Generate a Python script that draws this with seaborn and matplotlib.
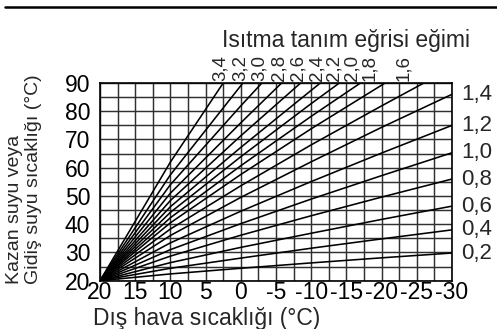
"""
Heating curve chart (Isıtma tanım eğrisi) redrawn with seaborn.

Flow temperature vs. outdoor temperature for slopes 0,2 ... 3,4.
"""

import matplotlib.pyplot as plt
import pandas as pd
import seaborn as sns
from matplotlib.ticker import MultipleLocator

# -----------------------------------------------------------------------------
# Data
# -----------------------------------------------------------------------------
slopes = ["0,2", "0,4", "0,6", "0,8", "1,0", "1,2", "1,4",
          "1,6", "1,8", "2,0", "2,2", "2,4", "2,6", "2,8", "3,0", "3,2", "3,4"]

# outdoor temperature points of each curve (°C)
curve_x = [
    [20, 10, 0, -10, -20, -30],
    [20, 10, 0, -10, -20, -30],
    [20, 10, 0, -10, -20, -30],
    [20, 10, 0, -10, -20, -30],
    [20, 10, 0, -10, -20, -30],
    [20, 10, 0, -10, -20, -30],
    [20, 10, 0, -10, -20, -30],
    [20, 10, 0, -10, -20, -26],
    [20, 10, 0, -10, -20.5],
    [20, 10, 0, -10, -17],
    [20, 10, 0, -10, -14],
    [20, 10, 0, -10, -11.3],
    [20, 10, 0, -8.5],
    [20, 10, 0, -5.8],
    [20, 10, 0, -3],
    [20, 10, -0.3],
    [20, 10, 2.5],
]

# flow temperature points of each curve (°C)
curve_y = [
    [20, 22.4, 24.4, 26.3, 28.1, 29.8],
    [20, 24.4, 28.0, 31.5, 34.8, 38.0],
    [20, 26.4, 31.8, 36.8, 41.7, 46.4],
    [20, 28.7, 36.1, 43.0, 49.6, 56.0],
    [20, 31.0, 40.2, 48.9, 57.2, 65.3],
    [20, 33.4, 44.6, 55.1, 65.2, 75.0],
    [20, 36.0, 49.5, 62.1, 74.3, 86.0],
    [20, 38.3, 53.6, 68.1, 81.9, 90],
    [20, 40.5, 57.6, 73.8, 90],
    [20, 42.3, 60.7, 78.2, 90],
    [20, 44.2, 63.9, 82.7, 90],
    [20, 46.2, 67.2, 87.4, 90],
    [20, 48.4, 71.3, 90],
    [20, 51.0, 75.9, 90],
    [20, 54.0, 81.9, 90],
    [20, 57.5, 90],
    [20, 62.0, 90],
]

x_ticks = [20, 15, 10, 5, 0, -5, -10, -15, -20, -25, -30]
y_ticks = [20, 30, 40, 50, 60, 70, 80, 90]

TITLE = "Isıtma tanım eğrisi eğimi"
X_LABEL = "Dış hava sıcaklığı (°C)"
Y_LABEL = "Kazan suyu veya\nGidiş suyu sıcaklığı (°C)"

# the flatter top labels sit a little left of their line ends (pixels)
label_nudge = {"2,2": -2, "2,0": -5, "1,8": -12, "1,6": -17}

# long-form table for seaborn
rows = []
for label, xs, ys in zip(slopes, curve_x, curve_y):
    for xv, yv in zip(xs, ys):
        rows.append({"egim": label, "dis": xv, "gidis": yv})
df = pd.DataFrame(rows)

# -----------------------------------------------------------------------------
# Figure
# -----------------------------------------------------------------------------
sns.set_theme(style="white")
plt.rcParams["font.family"] = ["Liberation Sans", "DejaVu Sans"]

W, H = 497, 329
fig = plt.figure(figsize=(W / 100, H / 100), dpi=100)
ax = fig.add_axes([100 / W, 1 - 280.7 / H, 352 / W, 197.7 / H])

sns.lineplot(data=df, x="dis", y="gidis", units="egim", estimator=None,
             sort=False, color="black", linewidth=1.15, ax=ax, zorder=3)

ax.set_xlim(20, -30)
ax.set_ylim(20, 90)
ax.set_xticks(x_ticks)
ax.set_yticks(y_ticks)
ax.set_xticklabels([str(t) for t in x_ticks])
ax.xaxis.set_minor_locator(MultipleLocator(2.5))
ax.yaxis.set_minor_locator(MultipleLocator(5))
ax.grid(which="both", color="#303030", linewidth=1.05)
ax.tick_params(which="both", length=0, colors="black", labelsize=16.5)
ax.tick_params(axis="x", pad=0.5)
ax.tick_params(axis="y", pad=7)
ax.set_xlabel("")
ax.set_ylabel("")
for sp in ax.spines.values():
    sp.set_color("black")
    sp.set_linewidth(1.2)

# slope labels: steep curves above the frame, flat ones at the right
for label, xs, ys in zip(slopes, curve_x, curve_y):
    if ys[-1] >= 90:
        ax.annotate(label, (xs[-1], 90), xytext=(-3 + label_nudge.get(label, 0), 2),
                    textcoords="offset pixels", rotation=90, ha="center",
                    va="bottom", fontsize=13.5, annotation_clip=False)
    else:
        ax.annotate(label, (-30, ys[-1]), xytext=(9, 0), textcoords="offset pixels",
                    ha="left", va="center", fontsize=16, annotation_clip=False)

fig.text(222 / W, 1 - 47 / H, TITLE, ha="left", va="baseline", fontsize=16.5)
fig.text(93 / W, 1 - 325 / H, X_LABEL, ha="left", va="baseline", fontsize=16.5)
fig.text(6 / W, 1 - 284 / H, Y_LABEL, rotation=90, ha="left", va="bottom",
         multialignment="left", linespacing=1.15, fontsize=14)

# heavy rule at the top of the page
fig.add_artist(plt.Line2D([5 / W, 1], [1 - 7 / H, 1 - 7 / H], color="black",
                          linewidth=1.8, transform=fig.transFigure))

fig.savefig("out.png", dpi=100)
plt.close(fig)
